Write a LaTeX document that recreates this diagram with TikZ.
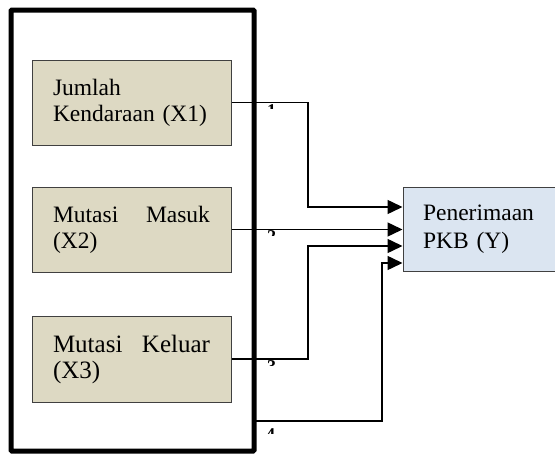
\documentclass[tikz,border=0pt]{standalone}
\usepackage{fontspec}
\setmainfont{Liberation Serif}
\usetikzlibrary{arrows.meta}
\definecolor{tanfill}{HTML}{DDD9C3}
\definecolor{bluefill}{HTML}{DBE5F1}
\definecolor{boxline}{HTML}{404040}
\begin{document}
\begin{tikzpicture}[x=1pt,y=-1pt,
  varbox/.style={draw=boxline, line width=1pt, fill=tanfill, minimum width=199pt,
    text width=157pt, align=left, inner sep=0pt, font=\fontsize{23.5}{26}\selectfont},
  ybox/.style={draw=boxline, line width=1pt, fill=bluefill, minimum width=155pt,
    minimum height=84pt, text width=115pt, align=left, inner sep=0pt,
    font=\fontsize{23.5}{28}\selectfont},
  frame/.style={draw=black, line width=5pt, rounded corners=1pt},
  conn/.style={draw=black, line width=1.5pt},
  arr/.style={conn, -{Triangle[length=15pt,width=14pt]}},
  numlbl/.style={font=\fontsize{18}{18}\selectfont\bfseries, inner sep=0pt, anchor=north west}
]
\useasboundingbox (0,0) rectangle (555,455);
% outer frame
\node[frame, minimum width=243pt, minimum height=441pt, inner sep=0pt] (frm) at (132.5,230.5) {};
% variable boxes
\node[varbox, minimum height=85pt] (b1) at (131.5,102.5) {Jumlah\\Kendaraan (X1)};
\node[varbox, minimum height=85pt] (b2) at (131.5,229.5) {Mutasi\hfill Masuk\\(X2)};
\node[varbox, minimum height=86pt, font=\fontsize{25}{26}\selectfont] (b3) at (131.5,359) {Mutasi\hfill Keluar\\(X3)};
% dependent box
\node[ybox] (y) at (480.5,229) {Penerimaan\\PKB (Y)};
% junction points
\coordinate (j1) at (308,207);
\coordinate (j3) at (308,246);
\coordinate (s4) at (254,421);
\coordinate (j4) at (382,263);
% connectors
\draw[arr] (b1.east) -| (j1) -- (y.west |- j1);
\draw[arr] (b2.east) -- (b2.east -| y.west);
\draw[arr] (b3.east) -| (j3) -- (y.west |- j3);
\draw[arr] (s4) -| (j4) -- (y.west |- j4);
% clipped path numbers
\begin{scope}
\clip (262,103.5) rectangle (282,108.5);
\node[numlbl] (l1) at (267,104) {1};
\end{scope}
\begin{scope}
\clip (262,229.5) rectangle (282,235);
\node[numlbl] (l2) at (267,230) {2};
\end{scope}
\begin{scope}
\clip (262,359.5) rectangle (282,365);
\node[numlbl] (l3) at (267,360) {3};
\end{scope}
\begin{scope}
\clip (262,427.5) rectangle (282,433);
\node[numlbl] (l4) at (266,428) {4};
\end{scope}
\end{tikzpicture}
\end{document}
